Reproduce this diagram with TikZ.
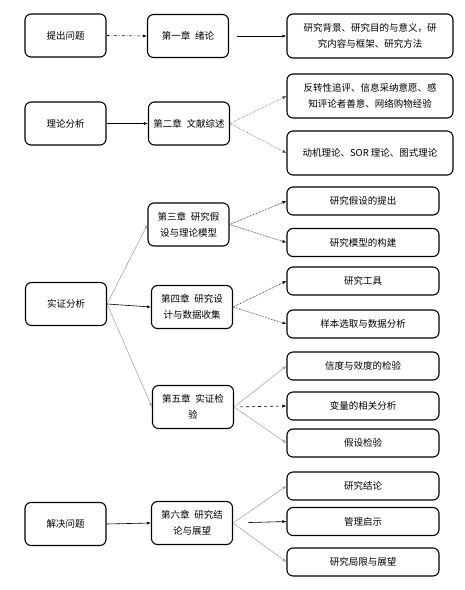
\documentclass[tikz,border=0pt]{standalone}
\usepackage{fontspec}
\setmainfont{Noto Sans CJK SC}
\usetikzlibrary{arrows.meta,positioning}

\tikzset{
  box/.style={draw,line width=1.1pt,rounded corners=6pt,align=center,inner sep=2pt,
    font=\fontsize{9.5}{16}\selectfont},
  stage/.style={box,minimum width=81pt,minimum height=43pt},
  chapter/.style={box,minimum width=81pt,minimum height=43pt},
  topic/.style={box,minimum width=152pt,minimum height=28pt},
  wide/.style={box,minimum width=166pt,minimum height=44pt},
  link/.style={-{Latex[length=4pt,width=3pt]},line width=0.6pt},
  faint/.style={link,gray!75,line width=0.5pt},
}

\begin{document}
\begin{tikzpicture}[x=1pt,y=-1pt]
\useasboundingbox[fill=white] (0,0) rectangle (465,590);

\node[stage] (q1) at (65.5,35.5) {提出问题};
\node[chapter] (c1) at (188,36) {第一章\enspace 绪论};
\node[wide] (r1) at (370,36) {研究背景、研究目的与意义，研\\究内容与框架、研究方法};

\node[stage] (q2) at (65.5,123.5) {理论分析};
\node[chapter] (c2) at (189,123.5) {第二章\enspace 文献综述};
\node[wide] (r2a) at (370,96) {反转性追评、信息采纳意愿、感\\知评论者善意、网络购物经验};
\node[wide] (r2b) at (370,153) {动机理论、SOR 理论、图式理论};

\node[stage] (q3) at (66,304) {实证分析};
\node[chapter] (c3) at (188.5,224.5) {第三章\enspace 研究假\\设与理论模型};
\node[topic] (r3a) at (363,201) {研究假设的提出};
\node[topic] (r3b) at (363,242.5) {研究模型的构建};
\node[chapter] (c4) at (192,307) {第四章\enspace 研究设\\计与数据收集};
\node[topic] (r4a) at (363,281) {研究工具};
\node[topic] (r4b) at (363,324) {样本选取与数据分析};
\node[chapter] (c5) at (193,407) {第五章\enspace 实证检\\验};
\node[topic] (r5a) at (363,366) {信度与效度的检验};
\node[topic] (r5b) at (363,406) {变量的相关分析};
\node[topic] (r5c) at (363,443) {假设检验};

\node[stage] (q4) at (65.5,524) {解决问题};
\node[chapter] (c6) at (192,523) {第六章\enspace 研究结\\论与展望};
\node[topic] (r6a) at (363,486) {研究结论};
\node[topic] (r6b) at (363,521.5) {管理启示};
\node[topic] (r6c) at (363,562) {研究局限与展望};

\draw[link,dash dot] (q1.east) -- (c1.west);
\draw[link,shorten <=8pt] (c1.east) -- (r1.west);
\draw[link] (q2.east) -- (c2.west);
\draw[faint,densely dotted,black!70] (c2.east) -- (r2a.west);
\draw[faint,densely dotted,black!70] (c2.east) -- (r2b.west);

\draw[faint] (q3.east) -- (c3.west);
\draw[link] (q3.east) -- (c4.west);
\draw[faint] (q3.east) -- (c5.west);
\draw[link,densely dotted] (c3.east) -- (r3a.west);
\draw[link,densely dotted] (c3.east) -- (r3b.west);
\draw[link,densely dotted] (c4.east) -- (r4a.west);
\draw[link,densely dotted] (c4.east) -- (r4b.west);
\draw[faint] (c5.east) -- (r5a.west);
\draw[link,dashed,shorten <=6pt] (c5.east) -- (r5b.west);
\draw[faint] (c5.east) -- (r5c.west);

\draw[link] (q4.east) -- (c6.west);
\draw[faint] (c6.east) -- (r6a.west);
\draw[link,shorten <=15pt] (c6.east) -- (r6b.west);
\draw[faint] (c6.east) -- (r6c.west);
\end{tikzpicture}
\end{document}
